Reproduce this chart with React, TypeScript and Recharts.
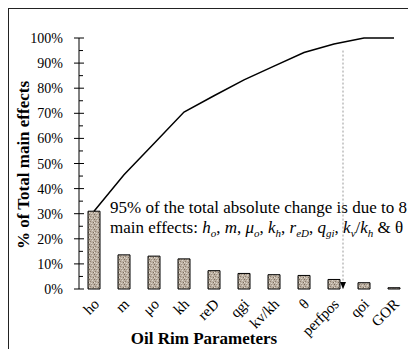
import React from 'react';
import {
  ComposedChart,
  Bar,
  Line,
  XAxis,
  YAxis,
  ReferenceLine,
  ReferenceDot,
  Customized,
} from 'recharts';

const categories = ['ho', 'm', 'μo', 'kh', 'reD', 'qgi', 'kv/kh', 'θ', 'perfpos', 'qoi', 'GOR'];
const mainEffects = [31, 13.6, 13.1, 12, 7.3, 6.2, 5.7, 5.4, 3.8, 2.5, 0.5];
const cumulative = [31, 45.5, 58, 70.5, 77, 83.3, 88.8, 94.2, 97.6, 100, 100];
const yTicks = [0, 5, 10, 15, 20, 25, 30, 35, 40, 45, 50, 55, 60, 65, 70, 75, 80, 85, 90, 95, 100];
const boundaryTicks = [0, 1, 2, 3, 4, 5, 6, 7, 8, 9, 10, 11];
const cutoff = 95;
const cutoffBoundary = 8;

const data = categories.map((name, i) => ({
  name,
  effect: mainEffects[i],
  cum: cumulative[i],
}));

const serif = '"Liberation Serif", "Times New Roman", serif';

const YTick = (props: any) => {
  const { x, y, payload } = props;
  const v = payload.value;
  const major = v % 10 === 0;
  return (
    <g>
      {major ? (
        <>
          <line x1={x - 5} x2={x + 5} y1={y} y2={y} stroke="#000" />
          <text x={x - 16} y={y} dy={5} textAnchor="end" fontFamily={serif} fontSize={14} fill="#000">
            {v}%
          </text>
        </>
      ) : (
        <line x1={x} x2={x + 4} y1={y} y2={y} stroke="#000" />
      )}
    </g>
  );
};

const XTick = (props: any) => {
  const { x, y, payload } = props;
  const ax = x + 6;
  const ay = y + 16;
  return (
    <text
      x={ax}
      y={ay}
      textAnchor="end"
      transform={`rotate(-45, ${ax}, ${ay})`}
      fontFamily={serif}
      fontSize={15}
      fill="#000"
    >
      {payload.value}
    </text>
  );
};

const Decor = () => (
  <g>
    <defs>
      <pattern id="stipple" width="5" height="5" patternUnits="userSpaceOnUse">
        <rect width="5" height="5" fill="#bcb0a2" />
        <rect x="0" y="0" width="1" height="1" fill="#7b6c5c" />
        <rect x="3" y="1" width="1" height="1" fill="#ddd5ca" />
        <rect x="1" y="2" width="1" height="1" fill="#8f8070" />
        <rect x="4" y="3" width="1" height="1" fill="#7b6c5c" />
        <rect x="2" y="4" width="1" height="1" fill="#ddd5ca" />
        <rect x="2" y="0" width="1" height="1" fill="#a09282" />
        <rect x="0" y="3" width="1" height="1" fill="#e6dfd5" />
      </pattern>
    </defs>
    <text x={101} y={204} fontFamily={serif} fontSize={17} fill="#000">
      95% of the total absolute change is due to 8
    </text>
    <text x={101} y={224} fontFamily={serif} fontSize={17} fill="#000">
      main effects: <tspan fontStyle="italic">h</tspan>
      <tspan dy={4} fontSize={11} fontStyle="italic">o</tspan>
      <tspan dy={-4}>, </tspan>
      <tspan fontStyle="italic">m</tspan>, <tspan fontStyle="italic">μ</tspan>
      <tspan dy={4} fontSize={11} fontStyle="italic">o</tspan>
      <tspan dy={-4}>, </tspan>
      <tspan fontStyle="italic">k</tspan>
      <tspan dy={4} fontSize={11} fontStyle="italic">h</tspan>
      <tspan dy={-4}>, </tspan>
      <tspan fontStyle="italic">r</tspan>
      <tspan dy={4} fontSize={11} fontStyle="italic">eD</tspan>
      <tspan dy={-4}>, </tspan>
      <tspan fontStyle="italic">q</tspan>
      <tspan dy={4} fontSize={11} fontStyle="italic">gi</tspan>
      <tspan dy={-4}>, </tspan>
      <tspan fontStyle="italic">k</tspan>
      <tspan dy={4} fontSize={11} fontStyle="italic">v</tspan>
      <tspan dy={-4}>/</tspan>
      <tspan fontStyle="italic">k</tspan>
      <tspan dy={4} fontSize={11} fontStyle="italic">h</tspan>
      <tspan dy={-4}> &amp; θ</tspan>
    </text>
    <text
      x={20}
      y={156}
      textAnchor="middle"
      transform="rotate(-90, 20, 156)"
      fontFamily={serif}
      fontSize={17}
      fontWeight="bold"
      fill="#000"
    >
      % of Total main effects
    </text>
    <text x={195} y={335} textAnchor="middle" fontFamily={serif} fontSize={17} fontWeight="bold" fill="#000">
      Oil Rim Parameters
    </text>
  </g>
);

const Arrow = (props: any) => {
  const { cx, cy } = props;
  return <path d={`M${cx - 3},${cy - 7} L${cx + 3},${cy - 7} L${cx},${cy} Z`} fill="#000" />;
};

export default function App() {
  return (
    <div
      style={{
        width: 407,
        height: 341,
        borderLeft: '1px solid #222',
        borderTop: '1px solid #222',
        background: '#fff',
      }}
    >
      <ComposedChart
        width={407}
        height={340}
        data={data}
        margin={{ top: 29, right: 7, bottom: 0, left: 0 }}
      >
        <Customized component={<Decor />} />
        <XAxis
          xAxisId="num"
          type="number"
          domain={[0, 11]}
          ticks={boundaryTicks}
          height={0}
          tickSize={5}
          tickLine={{ stroke: '#000' }}
          axisLine={{ stroke: '#777', strokeWidth: 1.5 }}
          tick={() => <g />}
          allowDataOverflow
        />
        <XAxis
          xAxisId="cat"
          dataKey="name"
          height={60}
          interval={0}
          tickSize={0}
          tickMargin={0}
          tickLine={false}
          axisLine={false}
          tick={<XTick />}
        />
        <YAxis
          width={70}
          domain={[0, 100]}
          ticks={yTicks}
          interval={0}
          tickSize={0}
          tickMargin={0}
          tickLine={false}
          axisLine={{ stroke: '#000' }}
          tick={<YTick />}
        />
        <Bar
          xAxisId="cat"
          dataKey="effect"
          barSize={12}
          fill="url(#stipple)"
          stroke="#000"
          strokeWidth={1}
          isAnimationActive={false}
        />
        <Line
          xAxisId="cat"
          dataKey="cum"
          type="linear"
          stroke="#000"
          strokeWidth={1.5}
          dot={false}
          isAnimationActive={false}
        />
        <ReferenceLine
          xAxisId="num"
          segment={[
            { x: 0, y: cutoff },
            { x: 10.7, y: cutoff },
          ]}
          stroke="#555"
          strokeDasharray="2 1"
        />
        <ReferenceLine
          xAxisId="num"
          segment={[
            { x: cutoffBoundary, y: cutoff },
            { x: cutoffBoundary, y: 0 },
          ]}
          stroke="#999"
          strokeDasharray="2 2"
        />
        <ReferenceDot xAxisId="num" x={cutoffBoundary} y={0} r={3} shape={<Arrow />} />
      </ComposedChart>
    </div>
  );
}
